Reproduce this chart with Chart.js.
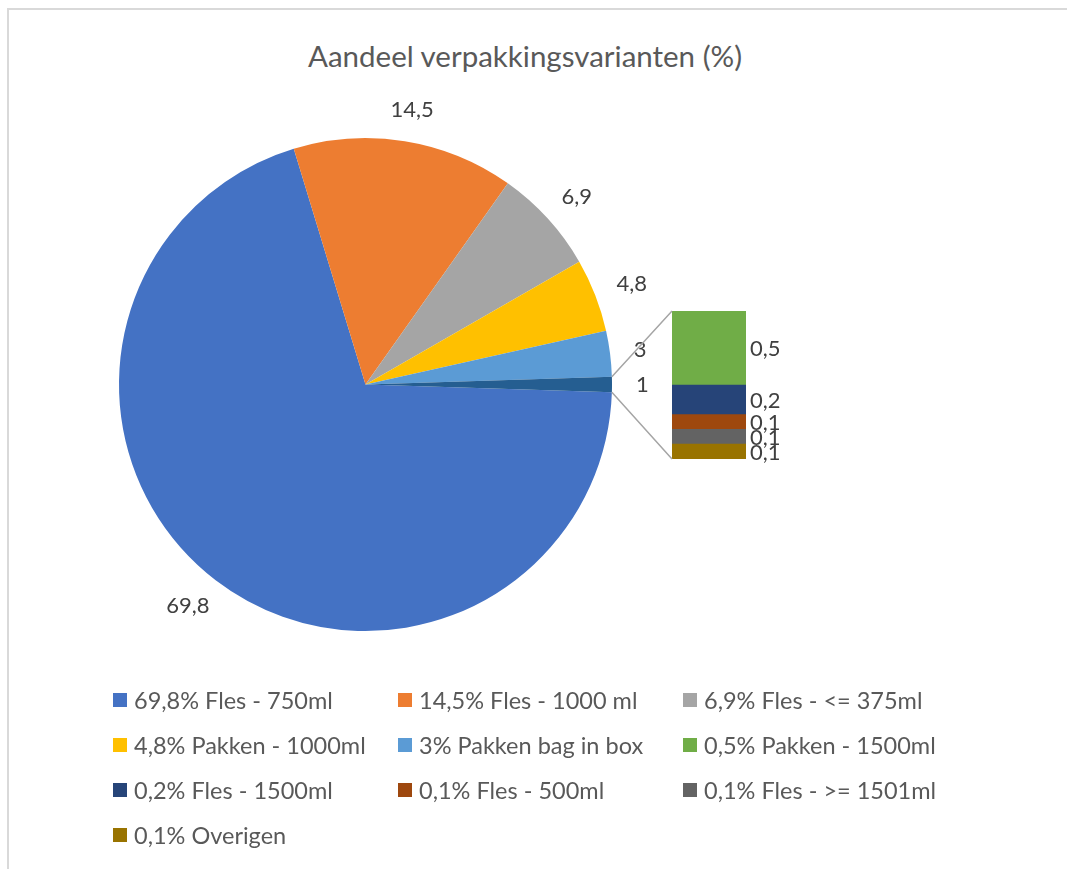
<!DOCTYPE html>
<html lang="nl">
<head>
<meta charset="UTF-8">
<title>Aandeel verpakkingsvarianten</title>
<script src="https://cdn.jsdelivr.net/npm/chart.js"></script>
<style>
  body { margin: 0; background: #fff; font-family: Lato, "Open Sans", sans-serif; }
  #wrap { position: relative; width: 1067px; height: 869px; overflow: hidden; }
  #frame { position: absolute; left: 7px; top: 8px; width: 1100px; height: 900px;
           border-left: 2px solid #D9D9D9; border-top: 2px solid #D9D9D9; }
  #title { position: absolute; left: 0; width: 1050px; top: 36px; text-align: center;
           font-size: 29.5px; color: #595959; line-height: 40px; }
  .layer { position: absolute; left: 0; top: 0; width: 1067px; height: 869px; }
  #legend .item { position: absolute; height: 24px; display: flex; align-items: center;
                  font-size: 23.5px; color: #595959; white-space: nowrap; }
  #legend .box { width: 14px; height: 14px; margin-right: 7px; flex: none; }
</style>
</head>
<body>
<div id="wrap">
  <div id="frame"></div>
  <div id="title">Aandeel verpakkingsvarianten (%)</div>
  <div class="layer"><canvas id="pieChart"></canvas></div>
  <div class="layer"><canvas id="barChart"></canvas></div>
  <div id="legend"></div>
</div>
<script>
// categories, values and colours (legend order)
var categories = ["Fles - 750ml", "Fles - 1000 ml", "Fles - <= 375ml", "Pakken - 1000ml", "Pakken bag in box",
                  "Pakken - 1500ml", "Fles - 1500ml", "Fles - 500ml", "Fles - >= 1501ml", "Overigen"];
var shares = [69.8, 14.5, 6.9, 4.8, 3, 0.5, 0.2, 0.1, 0.1, 0.1];
var colors = ["#4472C4", "#ED7D31", "#A5A5A5", "#FFC000", "#5B9BD5",
              "#70AD47", "#264478", "#9E480E", "#636363", "#997300"];
var otherColor = "#255E91";

// first 5 in the pie, the rest in the bar
var pieCount = 5;
var barValues = shares.slice(pieCount);
var barColors = colors.slice(pieCount);
var otherTotal = Math.round(barValues.reduce(function (a, b) { return a + b; }, 0) * 10) / 10;
var pieValues = shares.slice(0, pieCount).concat([otherTotal]);
var pieColors = colors.slice(0, pieCount).concat([otherColor]);

var labelFont = "22px Lato, 'Open Sans', sans-serif";
var labelColor = "#404040";

function fmt(v) { return String(v).replace(".", ","); }

// labels outside the pie slices
var pieLabels = {
  id: "pieLabels",
  afterDatasetsDraw: function (chart) {
    var ctx = chart.ctx;
    var meta = chart.getDatasetMeta(0);
    ctx.save();
    ctx.font = labelFont;
    ctx.fillStyle = labelColor;
    ctx.textAlign = "center";
    ctx.textBaseline = "middle";
    meta.data.forEach(function (arc, i) {
      var p = arc.getProps(["x", "y", "startAngle", "endAngle", "outerRadius"]);
      var mid = (p.startAngle + p.endAngle) / 2;
      var txt = fmt(pieValues[i]);
      var w = ctx.measureText(txt).width;
      var r = p.outerRadius + 24;
      var x = p.x + Math.cos(mid) * (r + w / 2);
      var y = p.y + Math.sin(mid) * (r + 8);
      ctx.fillText(txt, x, y);
    });
    ctx.restore();
  }
};

var pieChart = new Chart(document.getElementById("pieChart"), {
  type: "pie",
  data: {
    labels: categories.slice(0, pieCount).concat(["Overig"]),
    datasets: [{ data: pieValues, backgroundColor: pieColors, borderWidth: 0 }]
  },
  options: {
    responsive: true,
    maintainAspectRatio: false,
    animation: false,
    rotation: 90 + otherTotal * 3.6 / 2,
    layout: { padding: { left: 119, right: 455, top: 138, bottom: 238 } },
    plugins: { legend: { display: false }, tooltip: { enabled: false } }
  },
  plugins: [pieLabels]
});

// bar labels and connector lines
var barExtras = {
  id: "barExtras",
  afterDatasetsDraw: function (chart) {
    var ctx = chart.ctx;
    ctx.save();
    ctx.font = labelFont;
    ctx.fillStyle = labelColor;
    ctx.textAlign = "left";
    ctx.textBaseline = "middle";
    var n = chart.data.datasets.length;
    for (var d = 0; d < n; d++) {
      var bar = chart.getDatasetMeta(d).data[0];
      var b = bar.getProps(["x", "y", "base", "width"]);
      ctx.fillText(fmt(chart.data.datasets[d].data[0]), b.x + b.width / 2 + 4, (b.y + b.base) / 2 + 1);
    }
    // connectors from the "other" slice to the bar
    var top = chart.getDatasetMeta(n - 1).data[0].getProps(["x", "y", "width"]);
    var bottom = chart.getDatasetMeta(0).data[0].getProps(["x", "base", "width"]);
    var arcs = pieChart.getDatasetMeta(0).data;
    var a = arcs[arcs.length - 1].getProps(["x", "y", "startAngle", "endAngle", "outerRadius"]);
    ctx.strokeStyle = "#A5A5A5";
    ctx.lineWidth = 1.5;
    ctx.beginPath();
    ctx.moveTo(a.x + Math.cos(a.startAngle) * a.outerRadius, a.y + Math.sin(a.startAngle) * a.outerRadius);
    ctx.lineTo(top.x - top.width / 2, top.y);
    ctx.moveTo(a.x + Math.cos(a.endAngle) * a.outerRadius, a.y + Math.sin(a.endAngle) * a.outerRadius);
    ctx.lineTo(bottom.x - bottom.width / 2, bottom.base);
    ctx.stroke();
    ctx.restore();
  }
};

// stack from bottom (last) to top (first)
var barDatasets = [];
for (var i = barValues.length - 1; i >= 0; i--) {
  barDatasets.push({
    label: categories[pieCount + i],
    data: [barValues[i]],
    backgroundColor: barColors[i],
    borderWidth: 0,
    barPercentage: 1,
    categoryPercentage: 1
  });
}

var barChart = new Chart(document.getElementById("barChart"), {
  type: "bar",
  data: { labels: ["Overig"], datasets: barDatasets },
  options: {
    responsive: true,
    maintainAspectRatio: false,
    animation: false,
    layout: { padding: { left: 672, right: 321, top: 311, bottom: 410 } },
    scales: {
      x: { stacked: true, display: false },
      y: { stacked: true, display: false, min: 0, max: otherTotal }
    },
    plugins: { legend: { display: false }, tooltip: { enabled: false } }
  },
  plugins: [barExtras]
});

// legend, 3 columns
var legend = document.getElementById("legend");
shares.forEach(function (v, i) {
  var col = i % 3, row = Math.floor(i / 3);
  var item = document.createElement("div");
  item.className = "item";
  item.style.left = (113 + col * 285) + "px";
  item.style.top = (688 + row * 45) + "px";
  var box = document.createElement("span");
  box.className = "box";
  box.style.background = colors[i];
  var txt = document.createElement("span");
  txt.textContent = fmt(v) + "% " + categories[i];
  item.appendChild(box);
  item.appendChild(txt);
  legend.appendChild(item);
});
</script>
</body>
</html>
